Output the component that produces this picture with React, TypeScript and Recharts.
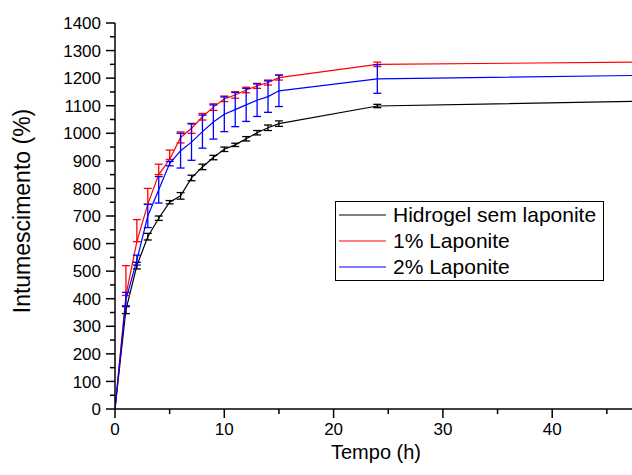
import React from 'react';
import { LineChart, Line, XAxis, YAxis, ErrorBar, Legend } from 'recharts';

const FONT = "Arial, 'Liberation Sans', sans-serif";

// time in hours
const hours = [0, 1, 2, 3, 4, 5, 6, 7, 8, 9, 10, 11, 12, 13, 14, 15, 24, 48];

// Hidrogel sem laponite
const semLaponite = [0, 360, 520, 625, 692, 750, 773, 838, 878, 912, 942, 958, 980, 1002, 1020, 1035, 1099, 1116];
const semLaponiteErr = [null, 14, 12, 12, 8, 6, 12, 10, 10, 8, 8, 6, 8, 8, 10, 10, 6, null];

// 1% Laponite (error bars drawn mostly upwards)
const laponite1 = [0, 412, 607, 743, 850, 905, 985, 1018, 1060, 1095, 1125, 1139, 1157, 1172, 1184, 1202, 1250, 1258];
const laponite1ErrMinus = [null, 0, 0, 0, 0, 0, 20, 18, 12, 12, 10, 12, 10, 9, 9, 9, 8, null];
const laponite1ErrPlus = [null, 108, 80, 57, 38, 34, 20, 18, 12, 12, 10, 12, 10, 9, 9, 9, 8, null];

// 2% Laponite
const laponite2 = [0, 397, 540, 700, 795, 890, 937, 968, 1006, 1041, 1069, 1086, 1103, 1120, 1133, 1154, 1197, 1210];
const laponite2Err = [null, 26, 18, 42, 48, 8, 63, 66, 60, 62, 63, 62, 60, 59, 57, 57, 52, null];

const xTicks = [0, 5, 10, 15, 20, 25, 30, 35, 40, 45];
const yTicks = Array.from({ length: 29 }, (_, i) => i * 50);

const legendItems = [
  { label: 'Hidrogel sem laponite', color: '#000000' },
  { label: '1% Laponite', color: '#ff0000' },
  { label: '2% Laponite', color: '#0000ff' },
];

const data = hours.map((t, i) => ({
  t,
  semLaponite: semLaponite[i],
  semLaponiteErr: semLaponiteErr[i],
  laponite1: laponite1[i],
  laponite1Err: laponite1ErrPlus[i] == null ? null : [laponite1ErrMinus[i], laponite1ErrPlus[i]],
  laponite2: laponite2[i],
  laponite2Err: laponite2Err[i],
}));

const YTick = (props: any) => {
  const { x, y, payload } = props;
  const major = payload.value % 100 === 0;
  return (
    <g>
      <line x1={x - (major ? 9 : 5)} x2={x} y1={y} y2={y} stroke="#000" strokeWidth={1.5} />
      {major && (
        <text x={x - 14} y={y} dy="0.36em" textAnchor="end" fontSize={17} fontFamily={FONT} fill="#000">
          {payload.value}
        </text>
      )}
    </g>
  );
};

const XTick = (props: any) => {
  const { x, y, payload } = props;
  const major = payload.value % 10 === 0;
  return (
    <g>
      <line x1={x} x2={x} y1={y} y2={y + (major ? 9 : 5)} stroke="#000" strokeWidth={1.5} />
      {major && (
        <text x={x} y={y + 26} textAnchor="middle" fontSize={17} fontFamily={FONT} fill="#000">
          {payload.value}
        </text>
      )}
    </g>
  );
};

const yTitle = () => (
  <text
    x={22}
    y={211}
    transform="rotate(-90 22 211)"
    textAnchor="middle"
    dominantBaseline="central"
    fontSize={23}
    fontFamily={FONT}
    fill="#000"
  >
    Intumescimento (%)
  </text>
);

const xTitle = () => (
  <text x={376} y={459} textAnchor="middle" fontSize={20} fontFamily={FONT} fill="#000">
    Tempo (h)
  </text>
);

const renderLegend = () => (
  <div
    style={{
      width: 269,
      height: 80,
      boxSizing: 'border-box',
      border: '1px solid #000',
      background: '#fff',
      paddingLeft: 3,
      fontFamily: FONT,
      fontSize: 21,
      color: '#000',
    }}
  >
    {legendItems.map(item => (
      <div key={item.label} style={{ height: 26, display: 'flex', alignItems: 'center' }}>
        <svg width={47} height={4} style={{ marginRight: 7, display: 'block' }}>
          <line x1={0} x2={47} y1={2} y2={2} stroke={item.color} strokeWidth={1.2} />
        </svg>
        <span style={{ lineHeight: '26px', whiteSpace: 'nowrap' }}>{item.label}</span>
      </div>
    ))}
  </div>
);

export default function App() {
  return (
    <div style={{ position: 'absolute', left: 0, top: 0, width: 632, height: 475, background: '#fff' }}>
      <LineChart width={632} height={475} data={data} margin={{ top: 23, right: 0, left: 0, bottom: 0 }}>
        <XAxis
          dataKey="t"
          type="number"
          domain={[0, 47.3]}
          allowDataOverflow
          ticks={xTicks}
          interval={0}
          height={66}
          tickSize={0}
          tickMargin={0}
          tickLine={false}
          tick={<XTick />}
          axisLine={{ stroke: '#000', strokeWidth: 1.5 }}
          label={xTitle}
        />
        <YAxis
          type="number"
          domain={[0, 1400]}
          ticks={yTicks}
          interval={0}
          width={115}
          tickSize={0}
          tickMargin={0}
          tickLine={false}
          tick={<YTick />}
          axisLine={{ stroke: '#000', strokeWidth: 1.5 }}
          label={yTitle}
        />
        <Legend
          layout="horizontal"
          verticalAlign="middle"
          align="center"
          content={renderLegend}
          wrapperStyle={{ position: 'absolute', left: 335, top: 201, width: 269, height: 80 }}
        />
        <Line
          dataKey="semLaponite"
          name="Hidrogel sem laponite"
          stroke="#000000"
          strokeWidth={1.2}
          dot={false}
          isAnimationActive={false}
        >
          <ErrorBar dataKey="semLaponiteErr" width={4} stroke="#000000" strokeWidth={1.3} direction="y" />
        </Line>
        <Line
          dataKey="laponite1"
          name="1% Laponite"
          stroke="#ff0000"
          strokeWidth={1.2}
          dot={false}
          isAnimationActive={false}
        >
          <ErrorBar dataKey="laponite1Err" width={4} stroke="#ff0000" strokeWidth={1.3} direction="y" />
        </Line>
        <Line
          dataKey="laponite2"
          name="2% Laponite"
          stroke="#0000ff"
          strokeWidth={1.2}
          dot={false}
          isAnimationActive={false}
        >
          <ErrorBar dataKey="laponite2Err" width={4} stroke="#0000ff" strokeWidth={1.3} direction="y" />
        </Line>
      </LineChart>
    </div>
  );
}
